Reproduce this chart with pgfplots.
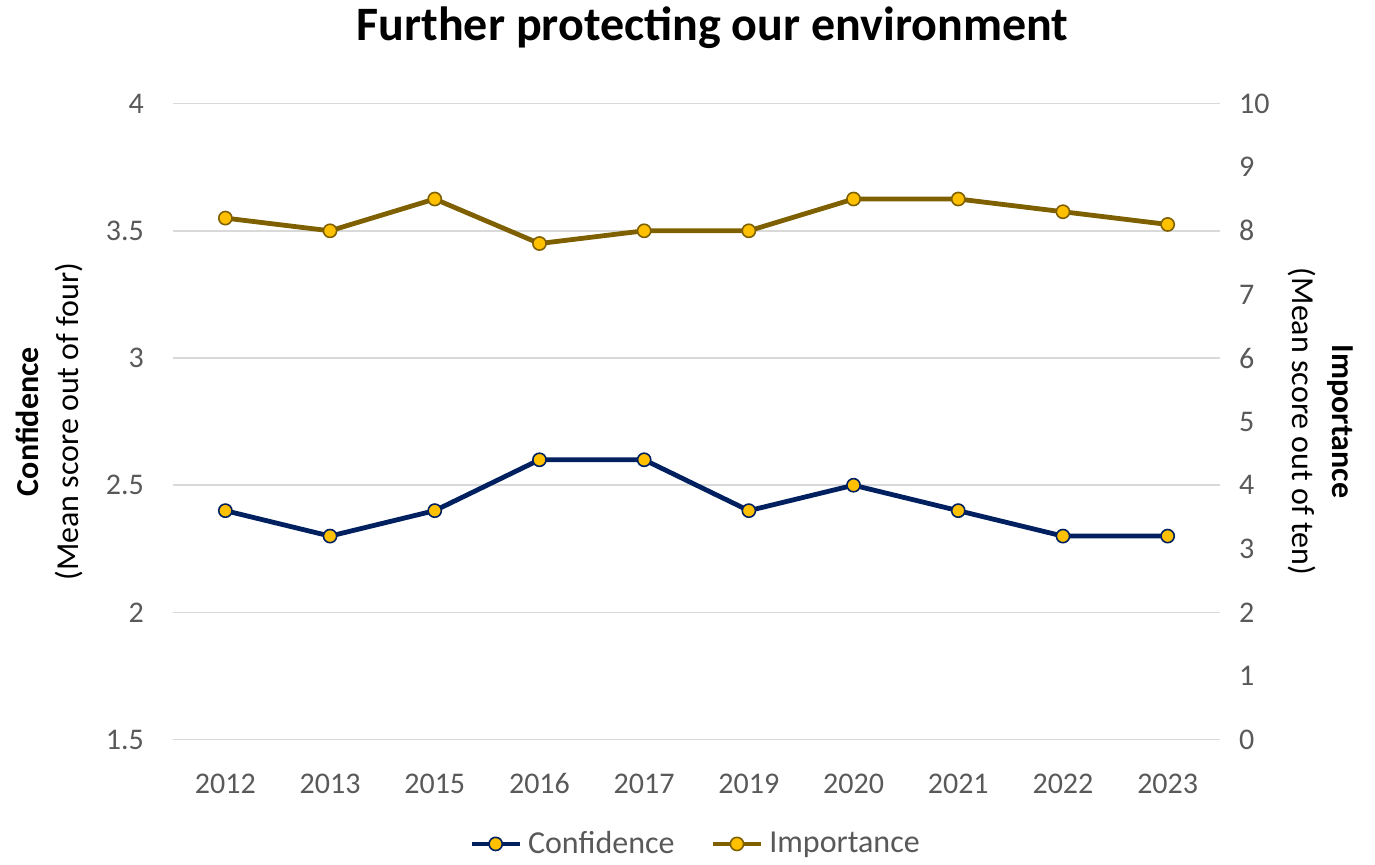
\documentclass[border=0pt]{standalone}
\usepackage{fontspec}
\setmainfont{Carlito}
\usepackage{pgfplots}
\usepackage{pgfplotstable}
\pgfplotsset{compat=1.18}
\definecolor{ConfBlue}{HTML}{002060}
\definecolor{ImpGold}{HTML}{7F6000}
\definecolor{MarkGold}{HTML}{FFC000}
\definecolor{TickGray}{HTML}{595959}
\definecolor{GridGray}{HTML}{D9D9D9}

% years are plotted at 0..9, names go in xticklabels
\pgfplotstableread{
x year conf imp
0 2012 2.4 8.2
1 2013 2.3 8.0
2 2015 2.4 8.5
3 2016 2.6 7.8
4 2017 2.6 8.0
5 2019 2.4 8.0
6 2020 2.5 8.5
7 2021 2.4 8.5
8 2022 2.3 8.3
9 2023 2.3 8.1
}\data

\pgfplotsset{
  base/.style={
    scale only axis,
    width=523.5pt,
    height=318pt,
    xmin=-0.5, xmax=9.5,
    axis line style={draw=none},
    major tick length=0pt,
    tick label style={font=\fontsize{15}{18}\selectfont, text=TickGray},
    /pgf/number format/assume math mode=true,
    label style={font=\fontsize{16}{20}\selectfont, align=center},
  },
  lineplot/.style={line width=2.4pt, mark=*, mark size=3.3pt,
    mark options={fill=MarkGold, draw=#1, line width=0.8pt}, draw=#1},
}

\begin{document}
\begin{tikzpicture}
\begin{axis}[
  base,
  ymin=1.5, ymax=4,
  ytick={1.5,2,2.5,3,3.5,4},
  ymajorgrids,
  grid style={GridGray, line width=0.8pt},
  xtick=data,
  xticklabels={2012,2013,2015,2016,2017,2019,2020,2021,2022,2023},
  xticklabel style={yshift=-13.5pt},
  yticklabel style={xshift=-11pt},
  ylabel={\textbf{Confidence}\\(Mean score out of four)},
  ylabel style={yshift=4.5pt},
  title={\textbf{Further protecting our environment}},
  title style={font=\fontsize{24}{28}\selectfont, yshift=18pt, xshift=8pt},
]
\addplot[lineplot=ConfBlue] table[x=x, y=conf] {\data};
\end{axis}
\begin{axis}[
  base,
  axis y line*=right,
  axis x line=none,
  ymin=0, ymax=10,
  ytick={0,1,...,10},
  yticklabel style={xshift=6pt},
  ylabel={\textbf{Importance}\\(Mean score out of ten)},
  ylabel style={rotate=180, yshift=2.5pt},
  legend style={at={(0.5,-0.164)}, anchor=center, draw=none,
    font=\fontsize{16}{19}\selectfont, text=TickGray, column sep=16pt,
    /tikz/every odd column/.append style={column sep=1pt}},
  legend columns=2,
  legend image code/.code={
    \draw[#1, mark repeat=2, mark phase=2] plot coordinates {(0pt,0pt) (12pt,0pt) (24pt,0pt)};},
]
\addlegendimage{lineplot=ConfBlue}
\addlegendentry{Confidence}
\addplot[lineplot=ImpGold] table[x=x, y=imp] {\data};
\addlegendentry{Importance}
\end{axis}
% widen the page to the reference's side margins
\path ([xshift=-86.5pt]current axis.west) ([xshift=77.5pt]current axis.east);
\end{tikzpicture}
\end{document}
